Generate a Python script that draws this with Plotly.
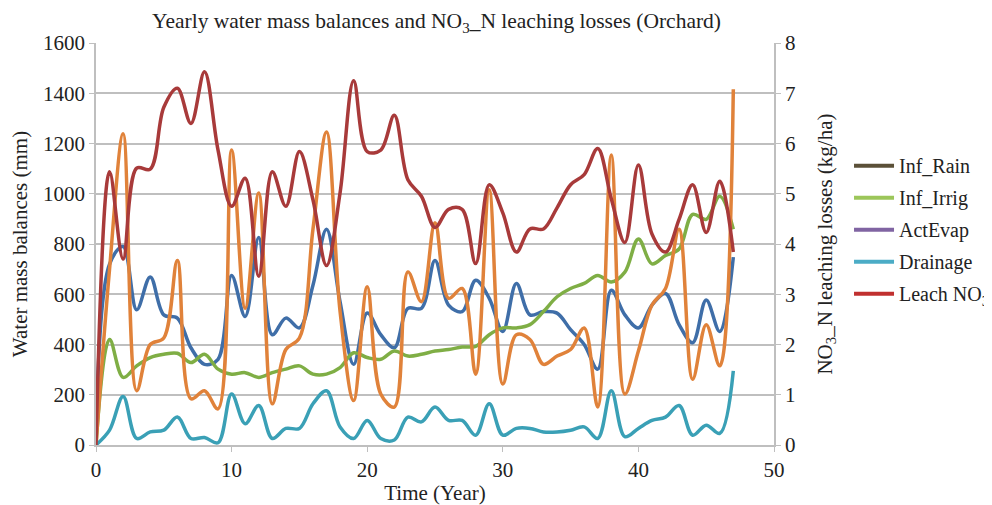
import plotly.graph_objects as go

# yearly values, years 0..47
years = list(range(48))

inf_rain = [0, 720, 790, 538, 669, 518, 505, 387, 321, 341,
            675, 511, 826, 439, 505, 466, 636, 859, 570, 321,
            525, 439, 387, 544, 544, 734, 557, 531, 656, 584,
            452, 643, 518, 531, 525, 459, 400, 302, 616, 518,
            466, 557, 603, 479, 407, 577, 452, 748]

inf_irrig = [0, 420, 269, 315, 348, 361, 365, 328, 361, 302,
             282, 288, 269, 288, 302, 315, 282, 282, 308, 367,
             348, 341, 374, 354, 361, 374, 380, 390, 393, 439,
             466, 466, 479, 531, 590, 623, 643, 675, 649, 688,
             820, 721, 754, 780, 918, 898, 990, 859]

act_evap = [0, 700, 1239, 216, 400, 426, 734, 184, 216, 144,
            1174, 544, 1003, 164, 380, 426, 859, 1246, 531, 177,
            630, 203, 151, 689, 570, 885, 584, 623, 282, 1016,
            243, 439, 420, 321, 354, 380, 466, 151, 1154, 203,
            374, 557, 623, 859, 262, 479, 315, 1416]

drainage = [0, 59, 193, 26, 52, 59, 111, 26, 30, 9,
            203, 85, 157, 26, 66, 66, 164, 216, 72, 26,
            98, 26, 20, 111, 92, 151, 98, 98, 39, 164,
            39, 66, 66, 52, 52, 59, 72, 26, 216, 33,
            66, 98, 111, 157, 39, 79, 46, 295]

leach_no3 = [0, 5.44, 3.70, 5.51, 5.49, 6.72, 7.10, 6.40, 7.43, 5.87,
             4.75, 5.31, 3.36, 5.44, 4.75, 5.84, 4.88, 3.57, 5.02, 7.25,
             5.84, 5.87, 6.56, 5.28, 4.95, 4.33, 4.69, 4.69, 3.61, 5.18,
             4.62, 3.84, 4.30, 4.30, 4.72, 5.18, 5.38, 5.90, 4.90, 4.03,
             5.57, 4.20, 3.84, 4.49, 5.18, 4.23, 5.25, 3.84]

legend_names = ["Inf_Rain", "Inf_Irrig", "ActEvap", "Drainage", "Leach NO<sub>3</sub>"]
legend_colors = ["#5b5038", "#9cc65a", "#8064a2", "#4bacc6", "#c0302f"]

serif = "Liberation Serif"
txt_col = "#222222"

fig = go.Figure()

lines = [
    (inf_rain, "#3f6ea8", "y"),
    (inf_irrig, "#7fae45", "y"),
    (act_evap, "#e0823a", "y"),
    (drainage, "#3aa0b6", "y"),
    (leach_no3, "#a83a3a", "y2"),
]
for vals, col, ax in lines:
    fig.add_trace(go.Scatter(x=years, y=vals, mode="lines", yaxis=ax,
                             line=dict(color=col, width=3.5, shape="spline", smoothing=1),
                             showlegend=False, hoverinfo="skip"))

# legend entries (colours differ from the drawn lines in the original)
for i, (name, col) in enumerate(zip(legend_names, legend_colors)):
    fig.add_trace(go.Scatter(x=[None], y=[None], mode="lines", name=name,
                             legendgroup="g%d" % i,
                             line=dict(color=col, width=4)))

axis_col = "#bfbfbf"
tick_font = dict(family=serif, size=21, color=txt_col)
title_font = dict(family=serif, size=21, color=txt_col)

fig.update_layout(
    width=984, height=497,
    margin=dict(l=88, r=218, t=35, b=60, autoexpand=False),
    paper_bgcolor="white", plot_bgcolor="white",
    font=dict(family=serif, size=21, color=txt_col),
    title=dict(text="Yearly water mass balances and NO<sub>3</sub>_N leaching losses (Orchard)",
               x=0.4355, xanchor="center", y=0.974, yanchor="middle",
               font=dict(family=serif, size=21.5, color=txt_col)),
    xaxis=dict(range=[0, 50], dtick=10, showgrid=False, zeroline=False, automargin=False,
               showline=True, linecolor=axis_col, linewidth=1.5,
               ticks="outside", tickcolor=axis_col, ticklen=5, tickfont=tick_font,
               title=dict(text="Time (Year)", standoff=5, font=title_font)),
    yaxis=dict(range=[0, 1600], dtick=200, showgrid=True, gridcolor=axis_col, gridwidth=1.5,
               zeroline=False, showline=True, linecolor=axis_col, linewidth=1.5, automargin=False,
               ticks="outside", tickcolor=axis_col, ticklen=5, tickfont=tick_font,
               title=dict(text="Water mass balances (mm)", standoff=10, font=title_font)),
    yaxis2=dict(range=[0, 8], dtick=1, overlaying="y", side="right", showgrid=False,
                zeroline=False, showline=True, linecolor=axis_col, linewidth=1.5, automargin=False,
                ticks="outside", tickcolor=axis_col, ticklen=5, tickfont=tick_font,
                title=dict(text="NO<sub>3</sub>_N leaching losses (kg/ha)", standoff=22,
                           font=title_font)),
    legend=dict(xref="container", yref="container", x=0.8547, xanchor="left",
                y=0.722, yanchor="top",
                itemwidth=40, tracegroupgap=3, traceorder="grouped",
                bgcolor="rgba(0,0,0,0)", font=dict(family=serif, size=20, color=txt_col)),
)

fig.write_html("out.html")
